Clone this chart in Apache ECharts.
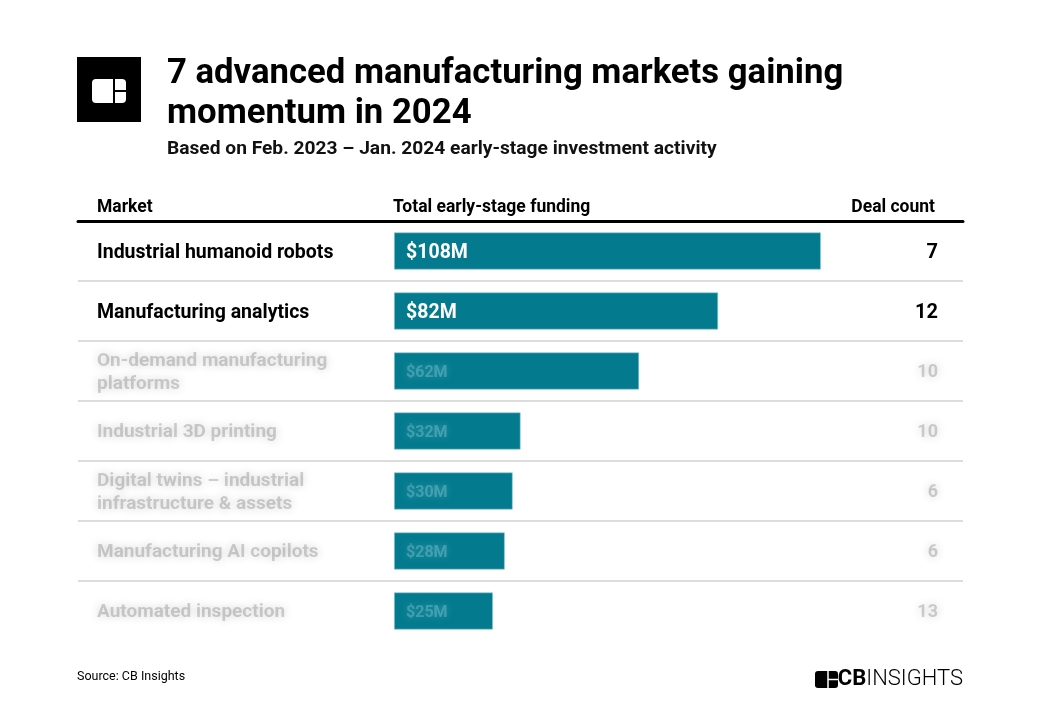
<!DOCTYPE html>
<html><head><meta charset="utf-8">
<script src="https://cdn.jsdelivr.net/npm/echarts@6/dist/echarts.min.js"></script>
<style>html,body{margin:0;padding:0;background:#fff}#c{width:1040px;height:723px}</style>
</head><body><div id="c"></div>
<script>
const markets = ["Industrial humanoid robots","Manufacturing analytics","On-demand manufacturing platforms","Industrial 3D printing","Digital twins – industrial infrastructure & assets","Manufacturing AI copilots","Automated inspection"];
const funding = [108, 82, 62, 32, 30, 28, 25];
const fundingLabels = ["$108M","$82M","$62M","$32M","$30M","$28M","$25M"];
const dealCounts = [7, 12, 10, 10, 6, 6, 13];
const visibleRows = 2; // rows shown clearly; the rest are blurred in the source

const F = 'Roboto, "Noto Sans", sans-serif';
const chart = echarts.init(document.getElementById('c'));
const blurred = (i) => i >= visibleRows;
const blurText = {color: 'rgba(30,30,30,0.2)', textShadowColor: 'rgba(0,0,0,0.95)', textShadowBlur: 10};

// simple word wrap using canvas measurement
const ctx = document.createElement('canvas').getContext('2d');
function wrap(text, font, maxW) {
  ctx.font = font;
  const words = text.split(' ');
  const lines = [];
  let cur = '';
  for (const w of words) {
    const t = cur ? cur + ' ' + w : w;
    if (ctx.measureText(t).width > maxW && cur) { lines.push(cur); cur = w; }
    else cur = t;
  }
  if (cur) lines.push(cur);
  return lines.join('\n');
}
const LABEL_W = 270;

chart.setOption({
  backgroundColor: '#fff',
  animation: false,
  title: [
    {text: '7 advanced manufacturing markets gaining\nmomentum in 2024', left: 167, top: 54, padding: 0,
     textStyle: {fontFamily: F, fontWeight: 'bold', fontSize: 34.7, lineHeight: 40, color: '#000'}},
    {text: 'Based on Feb. 2023 – Jan. 2024 early-stage investment activity', left: 167, top: 140, padding: 0,
     textStyle: {fontFamily: F, fontWeight: 'bold', fontSize: 19.2, color: '#111'}},
    {text: 'Market', left: 97, top: 199, padding: 0, textStyle: {fontFamily: F, fontWeight: 'bold', fontSize: 17.5, color: '#000'}},
    {text: 'Total early-stage funding', left: 393, top: 199, padding: 0, textStyle: {fontFamily: F, fontWeight: 'bold', fontSize: 17.5, color: '#000'}},
    {text: 'Deal count', right: 1040 - 935, top: 199, padding: 0, textStyle: {fontFamily: F, fontWeight: 'bold', fontSize: 17.5, color: '#000'}},
    {text: 'Source: CB Insights', left: 77, top: 670, padding: 0, textStyle: {fontFamily: F, fontWeight: 'normal', fontSize: 12.5, color: '#000'}}
  ],
  graphic: [
    {type: 'rect', shape: {x: 77, y: 57, width: 64, height: 65}, style: {fill: '#000'}},
    {type: 'rect', shape: {x: 92, y: 79, width: 34, height: 24, r: 4}, style: {fill: '#fff'}},
    {type: 'line', shape: {x1: 114, y1: 79, x2: 114, y2: 103}, style: {stroke: '#000', lineWidth: 2}},
    {type: 'line', shape: {x1: 114, y1: 91, x2: 126, y2: 91}, style: {stroke: '#000', lineWidth: 2}},
    {type: 'rect', shape: {x: 815, y: 671, width: 23, height: 17, r: 3}, style: {fill: '#000'}},
    {type: 'line', shape: {x1: 828, y1: 671, x2: 828, y2: 688}, style: {stroke: '#fff', lineWidth: 1.5}},
    {type: 'line', shape: {x1: 828, y1: 679.5, x2: 838, y2: 679.5}, style: {stroke: '#fff', lineWidth: 1.5}},
    {type: 'text', right: 1040 - 963, top: 668,
     style: {text: '{b|CB}{l|INSIGHTS}', rich: {
       b: {fontFamily: F, fontWeight: 'bold', fontSize: 22, fill: '#000'},
       l: {fontFamily: F, fontWeight: 300, fontSize: 22, fill: '#000'}}}}
  ],
  grid: {left: 78, right: 1040 - 963, top: 221, height: 420},
  xAxis: [
    {type: 'value', min: -80, max: 144, position: 'top',
     axisLine: {show: true, onZero: false, lineStyle: {color: '#000', width: 3}},
     axisTick: {show: false}, axisLabel: {show: false}, splitLine: {show: false}},
    {type: 'value', min: -80, max: 144, position: 'bottom',
     axisLine: {show: true, onZero: false, lineStyle: {color: '#fff', width: 4}},
     axisTick: {show: false}, axisLabel: {show: false}, splitLine: {show: false}}
  ],
  yAxis: [
    {type: 'category', data: markets, inverse: true,
     axisLine: {show: false}, axisTick: {show: false},
     splitLine: {show: true, lineStyle: {color: '#dcdcdc', width: 2}},
     axisLabel: {inside: true, margin: 19, align: 'left',
       formatter: (v, i) => blurred(i)
         ? '{z|' + wrap(v, 'bold 19px Roboto', LABEL_W) + '}'
         : '{b|' + wrap(v, 'bold 19.5px Roboto', LABEL_W) + '}',
       rich: {
         b: {fontFamily: F, fontWeight: 'bold', fontSize: 19.5, color: '#000', lineHeight: 24, padding: [4, 0, 0, 0]},
         z: Object.assign({fontFamily: F, fontWeight: 'bold', fontSize: 19, lineHeight: 23, padding: [3, 0, 0, 0]}, blurText)
       }}},
    {type: 'category', data: markets, inverse: true, position: 'right',
     axisLine: {show: false}, axisTick: {show: false}, splitLine: {show: false},
     axisLabel: {margin: -25, align: 'right',
       formatter: (v, i) => blurred(i) ? '{z|' + dealCounts[i] + '}' : '{b|' + dealCounts[i] + '}',
       rich: {
         b: {fontFamily: F, fontWeight: 'bold', fontSize: 20, color: '#000', padding: [3, 0, 0, 0]},
         z: Object.assign({fontFamily: F, fontWeight: 'bold', fontSize: 18, padding: [3, 0, 0, 0]}, blurText)
       }}}
  ],
  series: [{
    type: 'bar', data: funding, barWidth: 37, yAxisIndex: 0, xAxisIndex: 0,
    itemStyle: {color: '#037a8e', borderColor: '#8cc7d1', borderWidth: 0.6},
    label: {show: true, position: 'insideLeft', distance: 12,
      formatter: (p) => blurred(p.dataIndex) ? '{z|' + fundingLabels[p.dataIndex] + '}' : '{b|' + fundingLabels[p.dataIndex] + '}',
      rich: {
        b: {fontFamily: F, fontWeight: 'bold', fontSize: 19.5, color: '#fff', padding: [4, 0, 0, 0]},
        z: {fontFamily: F, fontWeight: 'bold', fontSize: 16, color: 'rgba(180,225,232,0.3)', padding: [3, 0, 0, 0],
            textShadowColor: 'rgba(170,220,230,1)', textShadowBlur: 9}
      }}
  }]
});
</script></body></html>
